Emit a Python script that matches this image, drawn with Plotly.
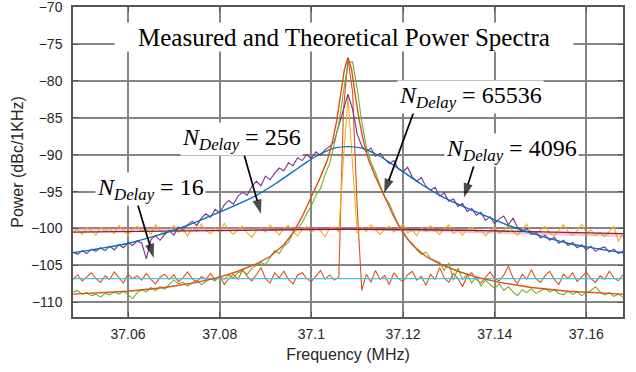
import plotly.graph_objects as go

# ---------------- data ----------------
f_start = 37.048
f_step = 0.001
n_pts = 121
freq = [round(f_start + f_step * i, 4) for i in range(n_pts)]

meas_16 = [-106.9, -106.3, -107.1, -106.5, -106.0, -106.8, -107.3, -106.4, -106.9, -105.9,
           -106.7, -107.4, -106.2, -106.8, -106.4, -107.0, -106.1, -106.9, -107.5, -106.6,
           -106.2, -106.9, -106.3, -107.2, -106.7, -105.9, -106.8, -107.3, -106.5, -106.9,
           -106.1, -107.0, -106.4, -107.6, -106.8, -106.2, -106.9, -105.6, -106.5, -107.1,
           -106.3, -105.3, -106.8, -107.4, -106.0, -106.7, -105.8, -106.9, -107.5, -106.3,
           -106.0, -106.8, -107.2, -106.4, -105.7, -106.9, -106.3, -107.0, -106.6, -84.0,
           -77.0, -81.5, -97.0, -108.4, -106.2, -107.3, -105.7, -106.9, -106.4, -107.6,
           -106.0, -106.8, -107.2, -106.3, -105.8, -107.0, -106.5, -107.7, -106.2, -106.9,
           -105.3, -106.7, -107.3, -106.1, -106.8, -107.9, -106.4, -106.0, -106.9, -107.4,
           -106.6, -105.9, -106.8, -107.1, -106.3, -105.1, -106.7, -107.5, -106.2, -106.9,
           -105.6, -106.8, -107.3, -106.4, -105.8, -106.9, -107.6, -106.2, -106.8, -106.0,
           -107.2, -106.5, -105.9, -106.8, -107.3, -106.4, -106.9, -105.8, -106.7, -107.1,
           -106.3]

meas_256 = [-100.6, -100.1, -100.8, -99.9, -100.3, -100.9, -99.8, -100.4, -100.0, -100.7,
            -99.6, -100.2, -100.9, -100.1, -99.7, -100.4, -100.0, -100.8, -99.5, -100.3,
            -100.9, -100.2, -99.6, -100.5, -100.1, -101.0, -99.9, -100.4, -99.4, -100.3,
            -100.7, -99.9, -100.5, -99.3, -100.2, -100.8, -100.1, -99.7, -100.6, -101.2,
            -100.3, -99.9, -100.5, -99.5, -100.2, -100.9, -100.0, -99.6, -100.4, -101.0,
            -100.2, -99.7, -100.6, -99.9, -100.3, -101.1, -100.0, -99.8, -100.5, -90.5,
            -82.2, -92.0, -100.6, -99.9, -100.4, -99.5, -100.2, -100.8, -100.1, -99.7,
            -100.5, -100.0, -99.4, -100.6, -100.2, -101.0, -99.9, -100.4, -99.6, -100.3,
            -100.8, -100.0, -99.5, -100.7, -100.2, -100.9, -100.1, -99.8, -100.5, -100.2,
            -101.0, -100.3, -99.9, -100.6, -100.2, -99.6, -100.4, -100.9, -100.1, -99.4,
            -100.5, -100.8, -100.2, -99.7, -100.6, -101.0, -100.3, -99.5, -100.4, -100.9,
            -100.3, -99.4, -100.6, -100.2, -100.9, -100.5, -101.1, -100.4, -99.7, -101.8,
            -100.6]

meas_4096 = [-103.2, -103.5, -103.0, -103.4, -102.8, -103.1, -102.6, -103.0, -102.4, -102.9,
             -102.2, -102.6, -101.9, -102.3, -101.7, -102.0, -104.1, -101.5, -101.0, -101.6,
             -100.8, -100.3, -100.9, -99.8, -100.2, -99.5, -99.0, -99.6, -98.6, -98.0,
             -98.5, -97.4, -97.9, -96.8, -96.2, -96.7, -95.6, -95.1, -95.5, -94.3,
             -93.6, -94.2, -92.9, -93.4, -92.5, -91.8, -92.2, -91.1, -91.5, -90.4,
             -90.8, -90.0, -90.5, -89.6, -90.1, -89.3, -88.9, -88.2, -86.0, -84.0,
             -81.8, -83.8, -87.2, -88.8, -89.6, -89.1, -90.2, -89.8, -90.6, -91.2,
             -90.8, -91.9, -92.3, -91.7, -93.0, -93.6, -93.1, -94.3, -94.8, -94.4,
             -95.6, -95.2, -96.3, -96.0, -97.0, -96.6, -97.7, -97.3, -98.2, -97.8,
             -98.9, -98.4, -99.3, -98.7, -98.3, -99.5, -98.6, -99.9, -100.4, -100.0,
             -100.8, -100.5, -101.3, -100.9, -101.6, -101.2, -102.0, -101.6, -102.3, -101.9,
             -102.6, -102.2, -102.9, -102.4, -103.1, -102.7, -102.5, -103.2, -102.8, -103.4,
             -103.1]

meas_65536 = [-108.6, -108.4, -108.9, -108.7, -109.1, -108.9, -109.3, -108.8, -109.0, -108.6,
              -108.9, -108.5, -109.0, -109.5, -108.7, -108.3, -108.6, -108.0, -108.4, -107.9,
              -108.2, -107.6, -107.0, -107.5, -107.3, -107.8, -107.4, -107.0, -107.6, -107.2,
              -106.8, -107.1, -106.5, -106.9, -106.3, -106.7, -106.0, -105.8, -106.2, -105.4,
              -105.0, -104.6, -104.9, -104.0, -103.0, -103.4, -102.4, -101.9, -100.6, -100.0,
              -99.2, -98.0, -96.9, -95.5, -94.6, -92.7, -91.2, -88.6, -85.8, -81.5,
              -77.6, -77.4, -81.0, -85.5, -88.9, -91.0, -92.4, -94.2, -95.7, -96.6,
              -98.2, -99.6, -100.3, -101.5, -102.0, -102.9, -103.5, -103.2, -104.1, -104.3,
              -104.6, -105.7, -104.7, -107.0, -105.4, -106.9, -106.2, -107.4, -106.5, -107.8,
              -107.0, -107.6, -108.1, -107.5, -108.4, -107.9, -108.6, -109.1, -108.3, -108.7,
              -108.2, -108.8, -108.5, -108.1, -108.6, -108.3, -108.8, -109.0, -108.5, -108.9,
              -108.6, -109.1, -108.7, -108.4, -107.9, -108.6, -109.0, -108.7, -109.2, -108.9,
              -109.3]

theo_16_f = [37.048, 37.168]
theo_16 = [-106.8, -106.8]

theo_256_f = [37.048, 37.078, 37.108, 37.138, 37.168]
theo_256 = [-100.5, -100.3, -100.1, -100.3, -100.7]

theo_256b_f = [37.048, 37.108, 37.168]
theo_256b = [-100.1, -100.0, -101.0]

theo_4096_f = [37.048, 37.054, 37.060, 37.066, 37.072, 37.078, 37.084, 37.088, 37.092,
               37.096, 37.099, 37.102, 37.105, 37.108, 37.111, 37.114, 37.117, 37.120,
               37.124, 37.128, 37.132, 37.138, 37.144, 37.150, 37.156, 37.162, 37.168]
theo_4096 = [-103.3, -102.7, -102.0, -101.0, -99.8, -98.3, -96.7, -95.5, -94.0,
             -92.3, -91.0, -89.9, -89.1, -88.9, -89.1, -89.9, -91.0, -92.3,
             -94.0, -95.5, -96.7, -98.3, -99.8, -101.0, -102.0, -102.7, -103.3]

theo_65536_f = [37.048, 37.060, 37.068, 37.075, 37.080, 37.084, 37.088, 37.091, 37.094,
                37.096, 37.098, 37.100, 37.102, 37.1035, 37.1045, 37.1055, 37.1064, 37.1072,
                37.108,
                37.1088, 37.1096, 37.1105, 37.1115, 37.1125, 37.114, 37.116, 37.118, 37.120,
                37.122, 37.125, 37.128, 37.132, 37.136, 37.141, 37.148, 37.156, 37.168]
theo_65536 = [-108.9, -108.5, -108.0, -107.3, -106.6, -105.8, -104.8, -103.8, -102.2,
              -100.6, -98.4, -95.8, -93.0, -90.7, -88.5, -85.5, -82.0, -78.5,
              -76.8,
              -78.5, -82.0, -85.5, -88.5, -90.7, -93.0, -95.8, -98.4, -100.6,
              -102.2, -103.8, -104.8, -105.8, -106.6, -107.3, -108.0, -108.5, -108.9]

x_ticks = [37.06, 37.08, 37.1, 37.12, 37.14, 37.16]
x_tick_labels = ["37.06", "37.08", "37.1", "37.12", "37.14", "37.16"]
y_ticks = [-70, -75, -80, -85, -90, -95, -100, -105, -110]

labels = [
    # text, label center (x, y), arrow tail (x, y), arrow tip (x, y)
    ("16", (37.0648, -94.7), (37.0618, -96.1), (37.0656, -104.0)),
    ("256", (37.0847, -87.8), (37.0851, -89.5), (37.0890, -98.0)),
    ("65536", (37.1348, -82.2), (37.1224, -84.1), (37.1159, -95.2)),
    ("4096", (37.1436, -89.3), (37.1358, -90.8), (37.1333, -95.8)),
]

# -------------- colours ---------------
C_BLUE = "#0072BD"
C_ORANGE = "#D95319"
C_YELLOW = "#EDB120"
C_PURPLE = "#7E2F8E"
C_GREEN = "#77AC30"
C_LBLUE = "#4DBEEE"
C_DRED = "#A2142F"

fig = go.Figure()

def add_line(x, y, color, width=1.0, shape="linear"):
    fig.add_trace(go.Scatter(x=x, y=y, mode="lines",
                             line=dict(color=color, width=width, shape=shape),
                             showlegend=False, hoverinfo="skip"))

add_line(freq, meas_16, C_ORANGE, 1.1)
add_line(freq, meas_256, C_YELLOW, 1.1)
add_line(freq, meas_4096, C_PURPLE, 1.1)
add_line(freq, meas_65536, C_GREEN, 1.1)

add_line(theo_16_f, theo_16, C_LBLUE, 1.3)
add_line(theo_256b_f, theo_256b, "rgba(215,130,160,0.45)", 2.5)
add_line(theo_256_f, theo_256, C_DRED, 1.3, "spline")
add_line(theo_4096_f, theo_4096, C_BLUE, 1.4, "spline")
add_line(theo_65536_f, theo_65536, C_ORANGE, 1.4)

# arrows (line + arrow-head marker oriented along the segment)
for txt, _lbl, (tx, ty), (hx, hy) in labels:
    fig.add_trace(go.Scatter(
        x=[tx, hx], y=[ty, hy], mode="lines+markers",
        line=dict(color="black", width=1.7),
        marker=dict(symbol=["circle", "arrow"], size=[0.1, 15], color="black",
                    angleref="previous", line=dict(width=0)),
        showlegend=False, hoverinfo="skip"))

serif = "Liberation Serif, Times New Roman, serif"
sans = "Liberation Sans, Arial, sans-serif"

annotations = []
for txt, (lx, ly), _tail, _tip in labels:
    annotations.append(dict(x=lx, y=ly, xref="x", yref="y", showarrow=False,
                            text="<i>N</i><sub><i>Delay</i></sub> = " + txt,
                            font=dict(family=serif, size=24, color="black"),
                            bgcolor="white", borderpad=1))

annotations.append(dict(x=0.4927, y=0.953, xref="paper", yref="paper",
                        showarrow=False, text="Measured and Theoretical Power Spectra",
                        font=dict(family=serif, size=25, color="black"),
                        bgcolor="white", width=458, height=28, borderpad=0))

axis_common = dict(showgrid=True, gridcolor="#858585", gridwidth=2,
                   showline=True, linecolor="#555555", linewidth=1.5,
                   mirror="ticks", ticks="inside", ticklen=5, tickcolor="#555555",
                   zeroline=False, automargin=False, ticklabeloverflow="allow",
                   tickfont=dict(family=sans, size=14, color="#262626"))

fig.update_layout(
    width=636, height=372,
    margin=dict(l=73, r=13, t=7, b=55, pad=0),
    paper_bgcolor="white", plot_bgcolor="white",
    xaxis=dict(range=[37.048, 37.168], tickvals=x_ticks, ticktext=x_tick_labels,
               title=dict(text="Frequency (MHz)", font=dict(family=sans, size=16, color="#262626"),
                          standoff=8),
               ticklabelstandoff=3, **axis_common),
    yaxis=dict(range=[-112, -69.97], tickvals=y_ticks,
               title=dict(text="Power (dBc/1KHz)", font=dict(family=sans, size=16, color="#262626"),
                          standoff=3),
               ticklabelstandoff=6, **axis_common),
    annotations=annotations,
)

fig.write_html("out.html", config={"displayModeBar": False},
               post_script="document.body.style.margin='0';")
